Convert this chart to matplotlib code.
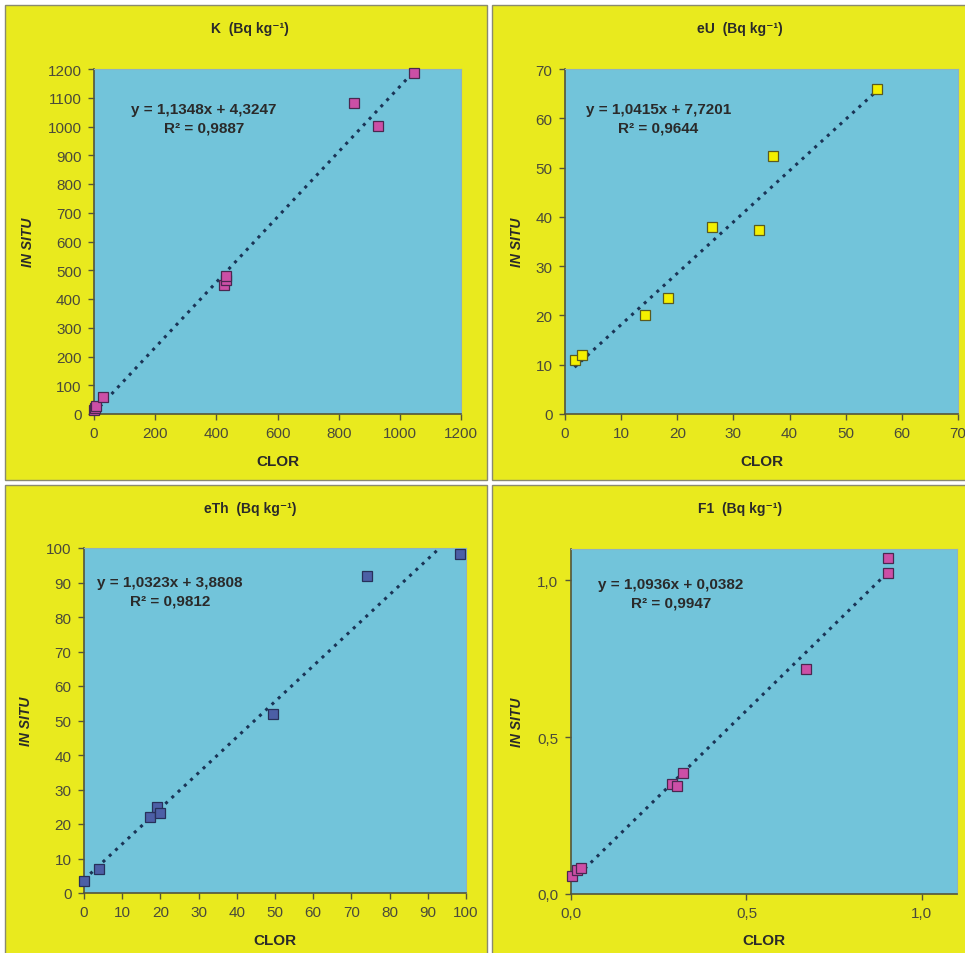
import matplotlib
matplotlib.use("Agg")
import matplotlib.pyplot as plt
from matplotlib.patches import Rectangle
from matplotlib.ticker import FuncFormatter

plt.rcParams["font.family"] = ["Liberation Sans", "DejaVu Sans"]

# K panel
k_clor = [0, 2, 8, 28, 425, 430, 433, 851, 927, 1046]
k_insitu = [15, 20, 29, 58, 450, 465, 479, 1083, 1002, 1186]
k_fit = (1.1348, 4.3247)

# eU panel
u_clor = [1.7, 3.0, 14.2, 18.4, 26.1, 34.6, 37.1, 55.6]
u_insitu = [11.0, 12.0, 20.1, 23.5, 37.9, 37.3, 52.4, 65.9]
u_fit = (1.0415, 7.7201)

# eTh panel
th_clor = [0, 3.8, 17.3, 19.0, 19.8, 49.4, 74.0, 98.5]
th_insitu = [3.6, 7.0, 22.0, 24.9, 23.2, 52.0, 92.0, 98.4]
th_fit = (1.0323, 3.8808)

# F1 panel
f_clor = [0.004, 0.018, 0.028, 0.287, 0.301, 0.318, 0.670, 0.902, 0.902]
f_insitu = [0.058, 0.077, 0.082, 0.350, 0.344, 0.386, 0.717, 1.025, 1.070]
f_fit = (1.0936, 0.0382)

W, H = 965, 954
YELLOW = "#E9EA1E"
PLOTBG = "#72C4DA"
TREND = "#1a3456"
TXT = "#2a2a2a"
TICKTXT = "#4a4a3a"

fig = plt.figure(figsize=(W / 100, H / 100), dpi=100)
fig.patch.set_facecolor("white")


def fx(x):
    return x / W


def fy(y):
    return 1 - y / H


def panel_bg(x0, y0, x1, y1):
    r = Rectangle((fx(x0), fy(y1)), fx(x1 - x0), (y1 - y0) / H,
                  transform=fig.transFigure, facecolor=YELLOW,
                  edgecolor="#8a8a6e", lw=1.0)
    r.set_zorder(-5)
    fig.add_artist(r)


def comma(v, pos):
    return ("%.1f" % v).replace(".", ",")


def make_panel(box, axbox, title, title_xy, ylab_x, xlab_y, xs, ys, fit,
               mcolor, medge, xlim, ylim, xticks, yticks, eq_xy, fmt=None):
    panel_bg(*box)
    x0, y0, x1, y1 = axbox
    ax = fig.add_axes([fx(x0), fy(y1), fx(x1 - x0), (y1 - y0) / H])
    ax.set_facecolor(PLOTBG)
    ax.set_xlim(*xlim)
    ax.set_ylim(*ylim)
    ax.set_xticks(xticks)
    ax.set_yticks(yticks)
    if fmt:
        ax.xaxis.set_major_formatter(FuncFormatter(fmt))
        ax.yaxis.set_major_formatter(FuncFormatter(fmt))
    for s in ["left", "bottom"]:
        ax.spines[s].set_color("#55553a")
        ax.spines[s].set_linewidth(1.2)
    for s in ["top", "right"]:
        ax.spines[s].set_color("#8fb3bd")
        ax.spines[s].set_linewidth(0.8)
    ax.tick_params(direction="out", length=4, width=1.0, color="#55553a",
                   labelsize=11, labelcolor=TICKTXT, pad=5)

    a, b = fit
    lx = [min(xs), max(xs)]
    ax.plot(lx, [a * v + b for v in lx], linestyle=(0, (1, 1.8)), lw=2.2,
            color=TREND, zorder=2)
    ax.plot(xs, ys, "s", ms=6.5, mfc=mcolor, mec=medge, mew=0.9, zorder=3,
            clip_on=False)

    eq = "y = %s" % ("%.4fx + %.4f" % (a, b)).replace(".", ",")
    r2 = eq_xy[2]
    ax.text(eq_xy[0], eq_xy[1], eq + "\nR² = " + r2, transform=ax.transAxes,
            ha="center", va="center", fontsize=11, fontweight="bold",
            color=TXT, linespacing=1.4, multialignment="center")

    fig.text(fx(title_xy[0]), fy(title_xy[1]), title, ha="center", va="center",
             fontsize=10, fontweight="bold", color=TXT)
    fig.text(fx(ylab_x), fy((y0 + y1) / 2), "IN SITU", rotation=90, ha="center",
             va="center", fontsize=10, fontweight="bold", style="italic", color=TXT)
    fig.text(fx((x0 + x1) / 2), fy(xlab_y), "CLOR", ha="center", va="center",
             fontsize=11, fontweight="bold", color=TXT)
    return ax


make_panel((5, 6, 487, 481), (94, 70, 461, 415), "K  (Bq kg⁻¹)", (250, 29), 28, 462,
           k_clor, k_insitu, k_fit, "#CC4FA6", "#4a2850",
           (0, 1200), (0, 1200), range(0, 1201, 200), range(0, 1201, 100),
           (0.30, 0.858, "0,9887"))

make_panel((492, 6, 968, 481), (565, 70, 958, 415), "eU  (Bq kg⁻¹)", (740, 29), 517, 462,
           u_clor, u_insitu, u_fit, "#F4F000", "#5a5a20",
           (0, 70), (0, 70), range(0, 71, 10), range(0, 71, 10),
           (0.237, 0.858, "0,9644"))

make_panel((5, 486, 487, 957), (84, 549, 466, 894), "eTh  (Bq kg⁻¹)", (250, 509), 26, 941,
           th_clor, th_insitu, th_fit, "#4C5FA6", "#27305a",
           (0, 100), (0, 100), range(0, 101, 10), range(0, 101, 10),
           (0.225, 0.875, "0,9812"))

make_panel((492, 486, 968, 957), (571, 550, 957, 895), "F1  (Bq kg⁻¹)", (740, 509), 517, 941,
           f_clor, f_insitu, f_fit, "#CC4FA6", "#4a2850",
           (0, 1.1), (0, 1.1), [0, 0.5, 1.0], [0, 0.5, 1.0],
           (0.259, 0.872, "0,9947"), fmt=comma)

fig.savefig("out.png", dpi=100, facecolor=fig.get_facecolor())
